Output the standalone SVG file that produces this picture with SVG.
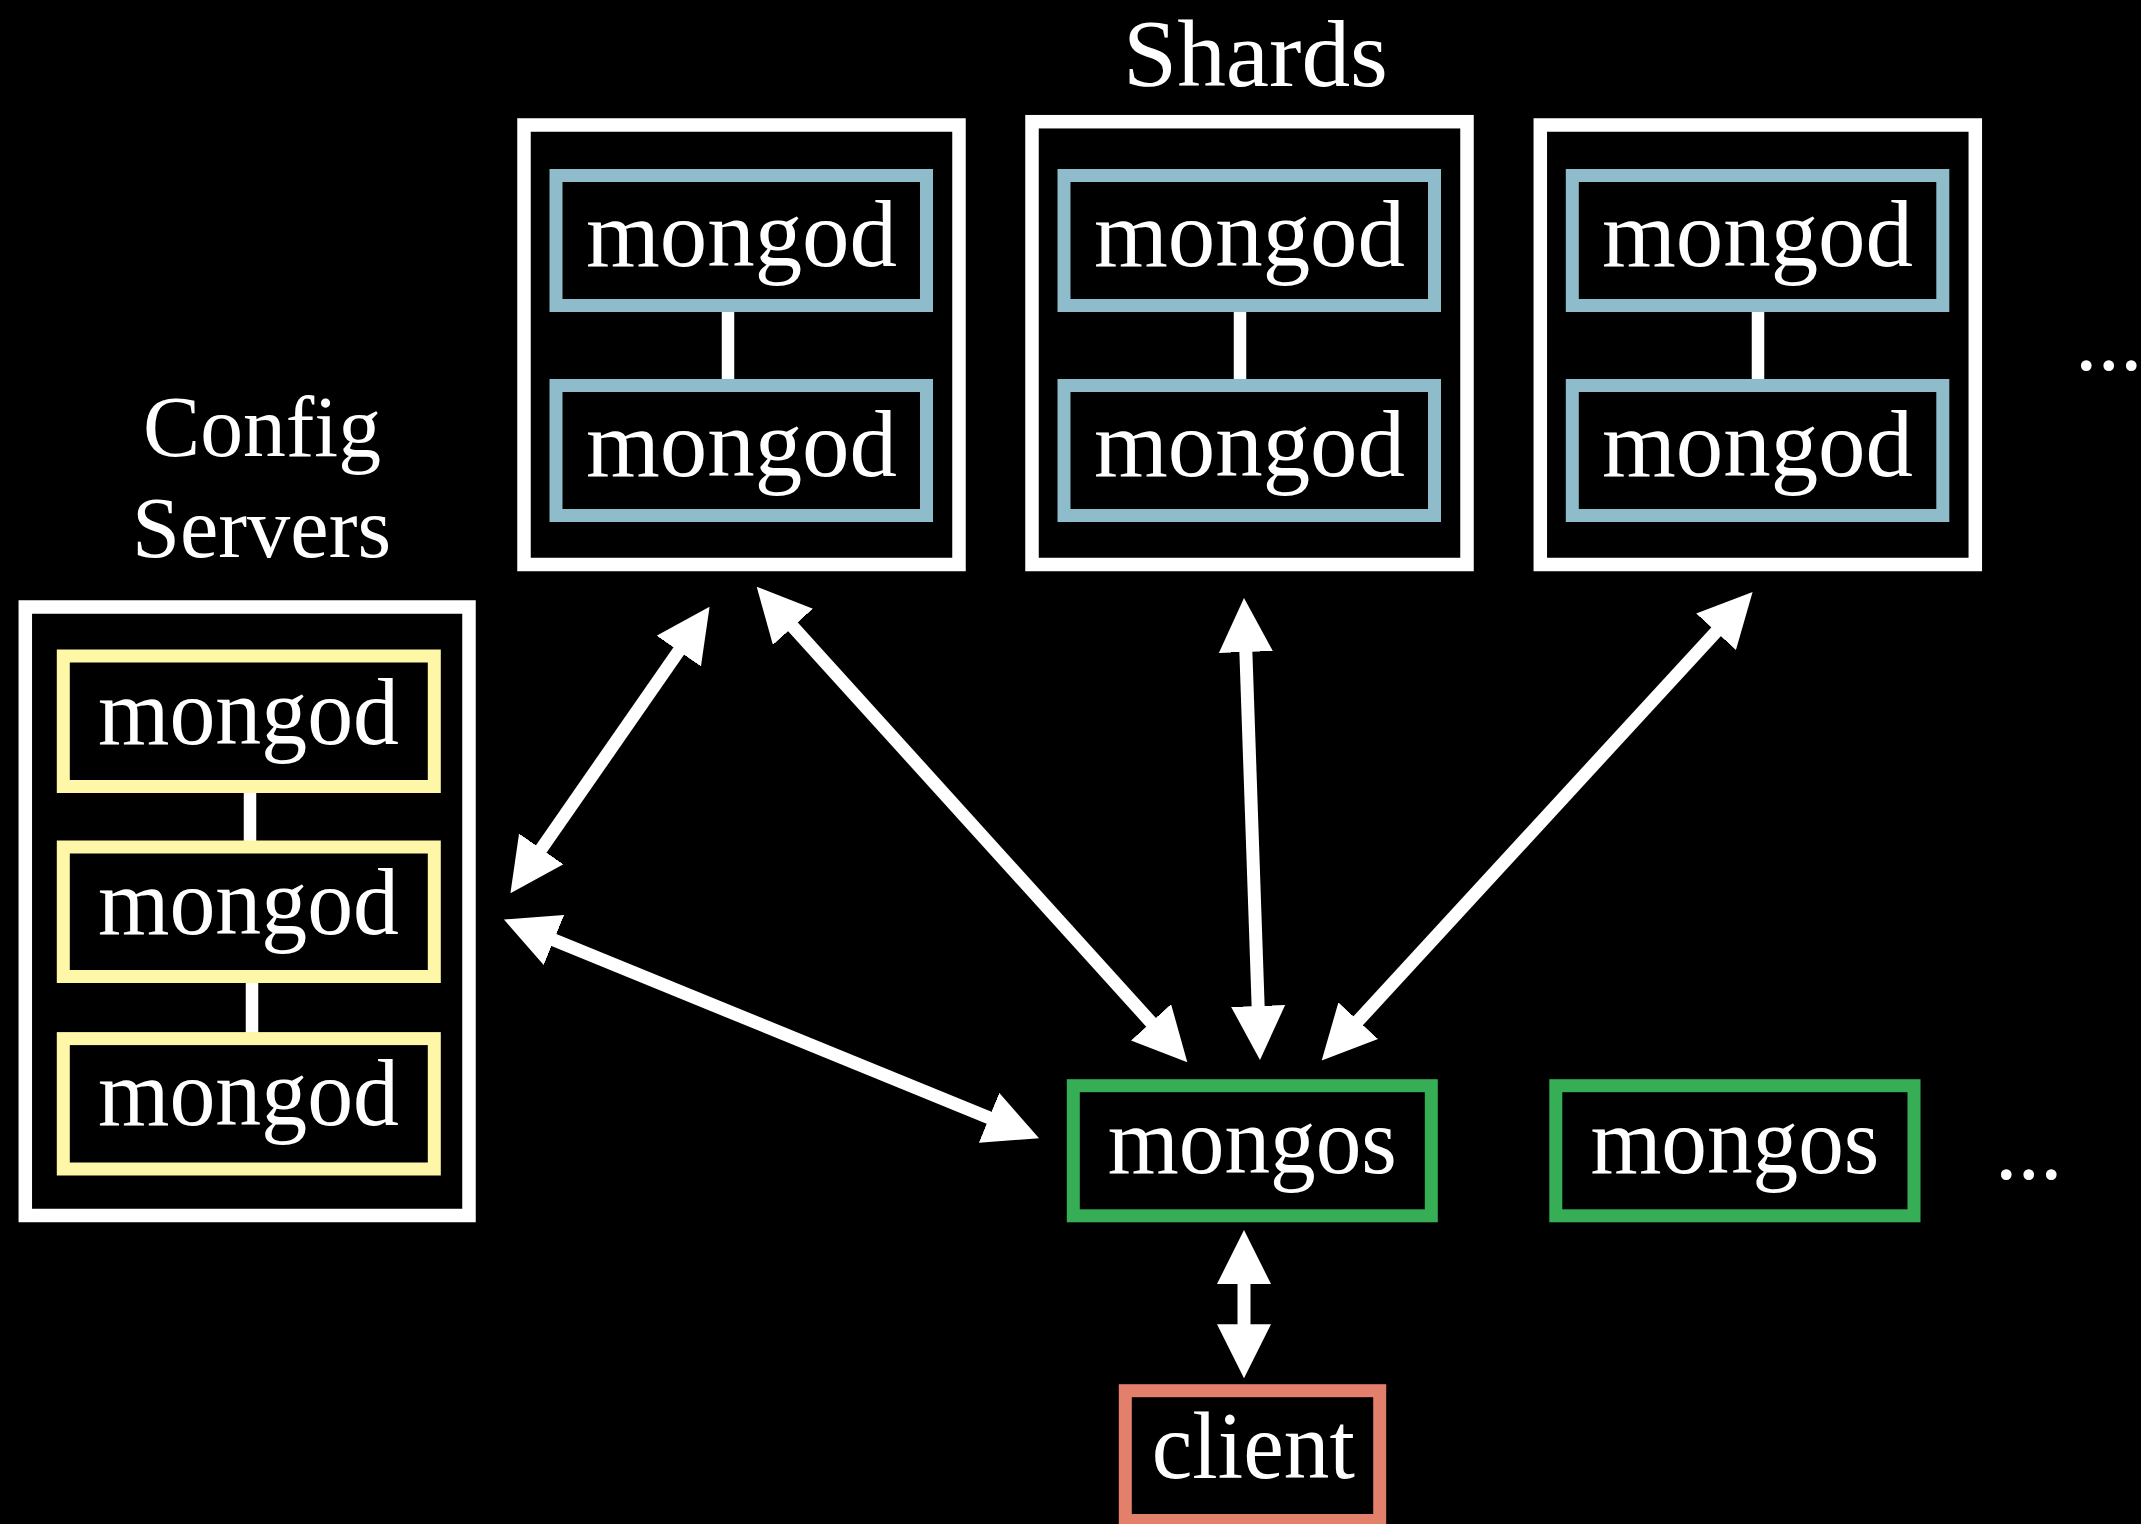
<svg xmlns="http://www.w3.org/2000/svg" width="2141" height="1524" viewBox="0 0 2141 1524">
<style>
  .bg { fill: #000; }
  .group { fill: #000; stroke: #fff; stroke-width: 13.5; }
  .shard { fill: #000; stroke: #8fbccb; stroke-width: 13; }
  .cfg { fill: #000; stroke: #fff7a8; stroke-width: 13; }
  .mongos { fill: #000; stroke: #36ae55; stroke-width: 13; }
  .client { fill: #000; stroke: #e2806c; stroke-width: 13; }
  .link { stroke: #fff; stroke-width: 12.5; }
  .arrow { stroke: #fff; stroke-width: 13; fill: none; marker-start: url(#ah); marker-end: url(#ah); }
  text { font-family: "Liberation Serif", "Times New Roman", serif; fill: #fff; text-anchor: middle; }
  .lbl { font-size: 95px; }
  .title { font-size: 95px; }
  .ctitle { font-size: 87px; }
  .dots { font-size: 90px; text-anchor: start; }
</style>
<defs>
  <marker id="ah" markerUnits="userSpaceOnUse" viewBox="0 0 54 54" markerWidth="54" markerHeight="54" refX="2" refY="27" orient="auto-start-reverse">
    <path d="M0,0 L54,27 L0,54 z" fill="#fff"/>
  </marker>
</defs>
<rect class="bg" x="0" y="0" width="2141" height="1524"/>

<g id="shards-label"><text class="title" x="1255.5" y="86" textLength="265" lengthAdjust="spacingAndGlyphs">Shards</text></g>
<g id="config-label">
  <text class="ctitle" x="262" y="456" textLength="238" lengthAdjust="spacingAndGlyphs">Config</text>
  <text class="ctitle" x="261.5" y="557" textLength="259" lengthAdjust="spacingAndGlyphs">Servers</text>
</g>

<g id="shard1">
  <rect class="group" x="524" y="125" width="435" height="439.5"/>
  <line class="link" x1="728" y1="310" x2="728" y2="381"/>
  <g id="shard1-a"><rect class="shard" x="556" y="175.5" width="370.5" height="130"/><text class="lbl" x="741.5" y="266" textLength="311" lengthAdjust="spacingAndGlyphs">mongod</text></g>
  <g id="shard1-b"><rect class="shard" x="556" y="385.5" width="370.5" height="130"/><text class="lbl" x="741.5" y="476" textLength="311" lengthAdjust="spacingAndGlyphs">mongod</text></g>
</g>
<g id="shard2">
  <rect class="group" x="1032" y="121.7" width="435" height="442.8"/>
  <line class="link" x1="1240" y1="310" x2="1240" y2="381"/>
  <g id="shard2-a"><rect class="shard" x="1064" y="175.5" width="370.5" height="130"/><text class="lbl" x="1249.5" y="266" textLength="311" lengthAdjust="spacingAndGlyphs">mongod</text></g>
  <g id="shard2-b"><rect class="shard" x="1064" y="385.5" width="370.5" height="130"/><text class="lbl" x="1249.5" y="476" textLength="311" lengthAdjust="spacingAndGlyphs">mongod</text></g>
</g>
<g id="shard3">
  <rect class="group" x="1540.3" y="125" width="435" height="439.5"/>
  <line class="link" x1="1758" y1="310" x2="1758" y2="381"/>
  <g id="shard3-a"><rect class="shard" x="1572.3" y="175.5" width="370.5" height="130"/><text class="lbl" x="1757.5" y="266" textLength="311" lengthAdjust="spacingAndGlyphs">mongod</text></g>
  <g id="shard3-b"><rect class="shard" x="1572.3" y="385.5" width="370.5" height="130"/><text class="lbl" x="1757.5" y="476" textLength="311" lengthAdjust="spacingAndGlyphs">mongod</text></g>
</g>
<g id="shards-more"><text class="dots" x="2075" y="370">...</text></g>

<g id="config">
  <rect class="group" x="25.3" y="607" width="443.7" height="608.5"/>
  <line class="link" x1="250" y1="790" x2="250" y2="843"/>
  <line class="link" x1="252" y1="980" x2="252" y2="1035"/>
  <g id="config-a"><rect class="cfg" x="63.3" y="656" width="371" height="130.5"/><text class="lbl" x="248.5" y="744" textLength="301" lengthAdjust="spacingAndGlyphs">mongod</text></g>
  <g id="config-b"><rect class="cfg" x="63.3" y="847" width="371" height="129.5"/><text class="lbl" x="248.5" y="934" textLength="301" lengthAdjust="spacingAndGlyphs">mongod</text></g>
  <g id="config-c"><rect class="cfg" x="63.3" y="1038.6" width="371" height="130.4"/><text class="lbl" x="248.5" y="1125" textLength="301" lengthAdjust="spacingAndGlyphs">mongod</text></g>
</g>

<g id="mongos1"><rect class="mongos" x="1073.3" y="1085.7" width="358" height="130.1"/><text class="lbl" x="1252.3" y="1172.7" textLength="289" lengthAdjust="spacingAndGlyphs">mongos</text></g>
<g id="mongos2"><rect class="mongos" x="1555.8" y="1085.7" width="358.2" height="130.1"/><text class="lbl" x="1734.9" y="1172.7" textLength="289" lengthAdjust="spacingAndGlyphs">mongos</text></g>
<g id="mongos-more"><text class="dots" x="1995" y="1179">...</text></g>
<g id="client"><rect class="client" x="1125.3" y="1390.7" width="254.4" height="129.8"/><text class="lbl" x="1253.3" y="1478.3" textLength="203" lengthAdjust="spacingAndGlyphs">client</text></g>

<g id="connectors">
  <line class="arrow" x1="679.9" y1="649.4" x2="540.1" y2="850.6"/>
  <line class="arrow" x1="552.1" y1="939.2" x2="990.9" y2="1118.6"/>
  <line class="arrow" x1="791.6" y1="625.3" x2="1152.4" y2="1023.8"/>
  <line class="arrow" x1="1245.8" y1="650" x2="1258.2" y2="1008"/>
  <line class="arrow" x1="1717.4" y1="630.3" x2="1356.9" y2="1022.2"/>
  <line class="arrow" x1="1244" y1="1282" x2="1244" y2="1326.3"/>
</g>
</svg>
